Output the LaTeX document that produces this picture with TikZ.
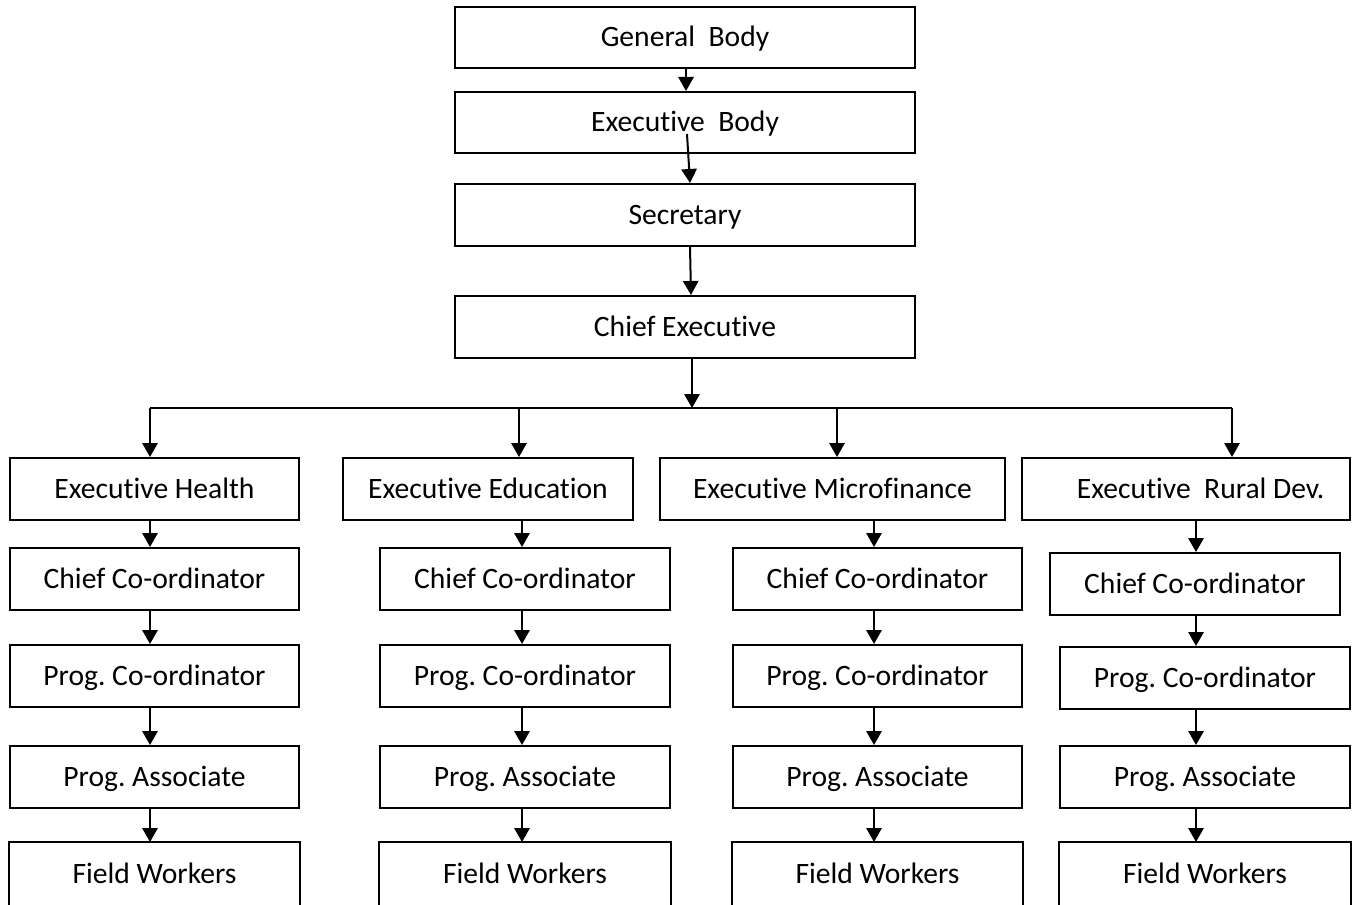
\documentclass[tikz,border=0pt]{standalone}
\usepackage{fontspec}
\setmainfont{Carlito}[Ligatures=NoCommon]
\usetikzlibrary{arrows.meta}
\frenchspacing
% \orgbox{name}{x1}{y1}{x2}{y2}{text}: a box given by its corners
\newcommand\orgbox[7][box]{\node[#1, minimum width={(#5-#3)*0.75pt}, minimum height={(#6-#4)*0.75pt}] (#2) at ({(#3+#5)/2},{(#4+#6)/2}) {#7};}
\begin{document}
\begin{tikzpicture}[x=0.75pt,y=-0.75pt,
  box/.style={draw, line width=1.5pt, rectangle, inner sep=0pt,
    font=\fontsize{22.2}{26}\selectfont, text height=14.2pt, text depth=0pt},
  openbox/.style={box, draw=none},
  arr/.style={line width=1.5pt, -{Triangle[length=10.5pt,width=11.5pt]}},
  link/.style={line width=1.5pt},
  edge3/.style={line width=1.5pt}]
\useasboundingbox (0,0) rectangle (1355,905);
\clip (0,0) rectangle (1355,905);

% top of the hierarchy
\orgbox{gb}{455}{7}{915}{68}{General~~Body}
\orgbox{eb}{455}{92}{915}{153}{Executive~~Body}
\orgbox{sec}{455}{184}{915}{246}{Secretary}
\orgbox{ce}{455}{296}{915}{358}{Chief Executive}

% executives
\orgbox{eh}{10}{458}{299}{520}{Executive Health}
\orgbox{ee}{343}{458}{633}{520}{Executive Education}
\orgbox{em}{660}{458}{1005}{520}{Executive Microfinance}
\orgbox{er}{1022}{458}{1350}{520}{\hspace*{22pt}Executive~~Rural Dev.}

% chief co-ordinators
\orgbox{cc1}{10}{548}{299}{610}{Chief Co-ordinator}
\orgbox{cc2}{380}{548}{670}{610}{Chief Co-ordinator}
\orgbox{cc3}{733}{548}{1022}{610}{Chief Co-ordinator}
\orgbox{cc4}{1050}{553}{1340}{615}{Chief Co-ordinator}

% programme co-ordinators
\orgbox{pc1}{10}{645}{299}{707}{Prog. Co-ordinator}
\orgbox{pc2}{380}{645}{670}{707}{Prog. Co-ordinator}
\orgbox{pc3}{733}{645}{1022}{707}{Prog. Co-ordinator}
\orgbox{pc4}{1060}{647}{1350}{709}{Prog. Co-ordinator}

% programme associates
\orgbox{pa1}{10}{746}{299}{808}{Prog. Associate}
\orgbox{pa2}{380}{746}{670}{808}{Prog. Associate}
\orgbox{pa3}{733}{746}{1022}{808}{Prog. Associate}
\orgbox{pa4}{1060}{746}{1350}{808}{Prog. Associate}

% field workers (boxes run past the lower edge)
\orgbox[openbox]{fw1}{10}{843}{299}{905}{Field Workers}
\orgbox[openbox]{fw2}{380}{843}{670}{905}{Field Workers}
\orgbox[openbox]{fw3}{733}{843}{1022}{905}{Field Workers}
\orgbox[openbox]{fw4}{1060}{843}{1350}{905}{Field Workers}
\foreach \f in {fw1,fw2,fw3,fw4}
  \draw[edge3] ([yshift=-10pt]\f.south west) -- (\f.north west) -- (\f.north east) -- ([yshift=-10pt]\f.south east);

% column lines
\coordinate (c1) at (150,0);
\coordinate (c2) at (522,0);
\coordinate (c3) at (874,0);
\coordinate (c4) at (1196,0);

% top chain
\draw[arr] (gb.south -| 686,0) -- (eb.north -| 686,0);
\draw[arr] ([shift={(2,-20)}]eb.south) -- ([shift={(5,0)}]sec.north);
\draw[arr] ([shift={(5,0)}]sec.south) -- ([shift={(6,0)}]ce.north);

% distribution bus
\coordinate (bus) at (692,408);
\coordinate (b1) at (150,408);
\coordinate (b2) at (519,408);
\coordinate (b3) at (837,408);
\coordinate (b4) at (1232,408);
\draw[arr] ([shift={(7,0)}]ce.south) -- (bus);
\draw[link] (b1) -- (b4);
\draw[arr] (b1) -- (b1 |- eh.north);
\draw[arr] (b2) -- (b2 |- ee.north);
\draw[arr] (b3) -- (b3 |- em.north);
\draw[arr] (b4) -- (b4 |- er.north);

% department chains
\draw[arr] (eh.south -| c1) -- (cc1.north -| c1);
\draw[arr] (cc1.south -| c1) -- (pc1.north -| c1);
\draw[arr] (pc1.south -| c1) -- (pa1.north -| c1);
\draw[arr] (pa1.south -| c1) -- (fw1.north -| c1);

\draw[arr] (ee.south -| c2) -- (cc2.north -| c2);
\draw[arr] (cc2.south -| c2) -- (pc2.north -| c2);
\draw[arr] (pc2.south -| c2) -- (pa2.north -| c2);
\draw[arr] (pa2.south -| c2) -- (fw2.north -| c2);

\draw[arr] (em.south -| c3) -- (cc3.north -| c3);
\draw[arr] (cc3.south -| c3) -- (pc3.north -| c3);
\draw[arr] (pc3.south -| c3) -- (pa3.north -| c3);
\draw[arr] (pa3.south -| c3) -- (fw3.north -| c3);

\draw[arr] (er.south -| c4) -- (cc4.north -| c4);
\draw[arr] (cc4.south -| c4) -- (pc4.north -| c4);
\draw[arr] (pc4.south -| c4) -- (pa4.north -| c4);
\draw[arr] (pa4.south -| c4) -- (fw4.north -| c4);
\end{tikzpicture}
\end{document}
